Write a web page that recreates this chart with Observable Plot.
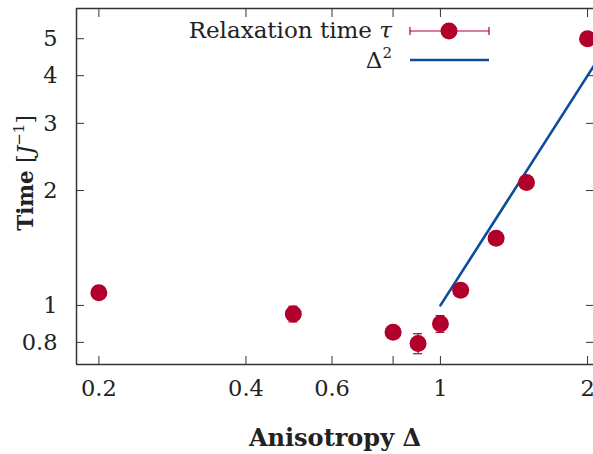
<!DOCTYPE html>
<html><head><meta charset="utf-8">
<script src="https://cdn.jsdelivr.net/npm/d3@7"></script>
<script src="https://cdn.jsdelivr.net/npm/@observablehq/plot@0.6"></script>
<style>body{margin:0;background:#fff} svg{display:block}</style>
</head><body><div id="chart"></div>
<script>
// data
const anisotropy = [0.2, 0.5, 0.8, 0.9, 1.0, 1.1, 1.3, 1.5, 2.0];
const relaxTime  = [1.08, 0.95, 0.85, 0.795, 0.895, 1.095, 1.5, 2.1, 5.0];
const relaxErr   = [0.02, 0.045, 0.02, 0.048, 0.045, 0.02, 0.02, 0.03, 0.05];
const fitDelta   = [1.0, 2.1];
const fitDelta2  = [1.0, 4.41];
const xTicks = [0.2, 0.4, 0.6, 0.8, 1, 2];
const yTicks = [0.8, 1, 2, 3, 4, 5];
const xDomain = [0.18, 2.057];
const yDomain = [0.7, 6];

const RED = "#b0002b", BLUE = "#0b4c9c", AX = "#333";
const points = anisotropy.map((d, i) => ({delta: d, tau: relaxTime[i], lo: relaxTime[i] - relaxErr[i], hi: relaxTime[i] + relaxErr[i]}));
const fit = fitDelta.map((d, i) => ({delta: d, tau: fitDelta2[i]}));
const FONT = "'DejaVu Serif', serif";
const FS = 22.5;

const chart = Plot.plot({
  width: 593, height: 454,
  marginLeft: 76, marginRight: 0, marginTop: 8, marginBottom: 90,
  style: {fontFamily: FONT, fontSize: FS + "px", color: "#222", background: "#fff", overflow: "hidden"},
  x: {type: "log", domain: xDomain},
  y: {type: "log", domain: yDomain},
  marks: [
    // frame (left, bottom, top)
    Plot.ruleY([yDomain[0]], {stroke: AX, strokeWidth: 1.5}),
    Plot.ruleY([yDomain[1]], {stroke: AX, strokeWidth: 1.5}),
    Plot.ruleX([xDomain[0]], {stroke: AX, strokeWidth: 1.5}),
    // inward ticks
    Plot.axisX(xTicks, {anchor: "bottom", tickSize: 8, dy: -8, text: null, stroke: AX, label: null}),
    Plot.axisX(xTicks, {anchor: "top", tickSize: 8, dy: 8, text: null, stroke: AX, label: null}),
    Plot.axisY(yTicks, {anchor: "left", tickSize: 8, dx: 8, text: null, stroke: AX, label: null}),
    Plot.axisY(yTicks, {anchor: "right", tickSize: 8, dx: -8, text: null, stroke: AX, label: null}),
    // labels
    Plot.axisX(xTicks, {anchor: "bottom", tickSize: 0, tickPadding: 16, label: null, tickFormat: d => String(d), fill: "#222", fontSize: FS}),
    Plot.axisY(yTicks, {anchor: "left", tickSize: 0, tickPadding: 19, label: null, tickFormat: d => String(d), fill: "#222", fontSize: FS}),
    // Δ² line
    Plot.line(fit, {x: "delta", y: "tau", stroke: BLUE, strokeWidth: 2.6, clip: true}),
    // error bars
    Plot.ruleX(points, {x: "delta", y1: "lo", y2: "hi", stroke: RED, strokeWidth: 1.2}),
    Plot.ruleY(points, {y: "lo", x1: "delta", x2: "delta", insetLeft: -4.5, insetRight: -4.5, stroke: RED, strokeWidth: 1.2}),
    Plot.ruleY(points, {y: "hi", x1: "delta", x2: "delta", insetLeft: -4.5, insetRight: -4.5, stroke: RED, strokeWidth: 1.2}),
    Plot.dot(points, {x: "delta", y: "tau", r: 8.5, fill: RED, stroke: "none"})
  ]
});
document.getElementById("chart").append(chart);

const svg = d3.select(chart);
// y title
const yt = svg.append("text")
  .attr("transform", "translate(33,173) rotate(-90)")
  .attr("text-anchor", "middle")
  .attr("font-family", FONT).attr("font-size", 21.5).attr("fill", "#222");
yt.append("tspan").attr("font-weight", "bold").text("Time ");
yt.append("tspan").text("[");
yt.append("tspan").attr("font-style", "italic").text("J");
yt.append("tspan").attr("font-size", 15).attr("dy", -9).text("−1");
yt.append("tspan").attr("dy", 9).text("]");

// x title
svg.append("text")
  .attr("x", 335).attr("y", 446)
  .attr("text-anchor", "middle")
  .attr("font-family", FONT).attr("font-size", 24).attr("font-weight", "bold").attr("fill", "#222")
  .text("Anisotropy Δ");

// legend
const lg = svg.append("g").attr("font-family", FONT).attr("font-size", 23).attr("fill", "#222");
const t1 = lg.append("text").attr("x", 392).attr("y", 38).attr("text-anchor", "end");
t1.append("tspan").text("Relaxation time ");
t1.append("tspan").attr("font-style", "italic").text("τ");
const t2 = lg.append("text").attr("x", 392).attr("y", 68).attr("text-anchor", "end");
t2.append("tspan").text("Δ");
t2.append("tspan").attr("font-size", 15).attr("dy", -10).text("2");
lg.append("line").attr("x1", 410).attr("x2", 489).attr("y1", 31).attr("y2", 31).attr("stroke", RED).attr("stroke-width", 1.2);
lg.append("line").attr("x1", 410).attr("x2", 410).attr("y1", 27).attr("y2", 35).attr("stroke", RED).attr("stroke-width", 1.2);
lg.append("line").attr("x1", 489).attr("x2", 489).attr("y1", 27).attr("y2", 35).attr("stroke", RED).attr("stroke-width", 1.2);
lg.append("circle").attr("cx", 449).attr("cy", 31).attr("r", 8.5).attr("fill", RED);
lg.append("line").attr("x1", 410).attr("x2", 489).attr("y1", 60).attr("y2", 60).attr("stroke", BLUE).attr("stroke-width", 2.6);
</script>
</body></html>
